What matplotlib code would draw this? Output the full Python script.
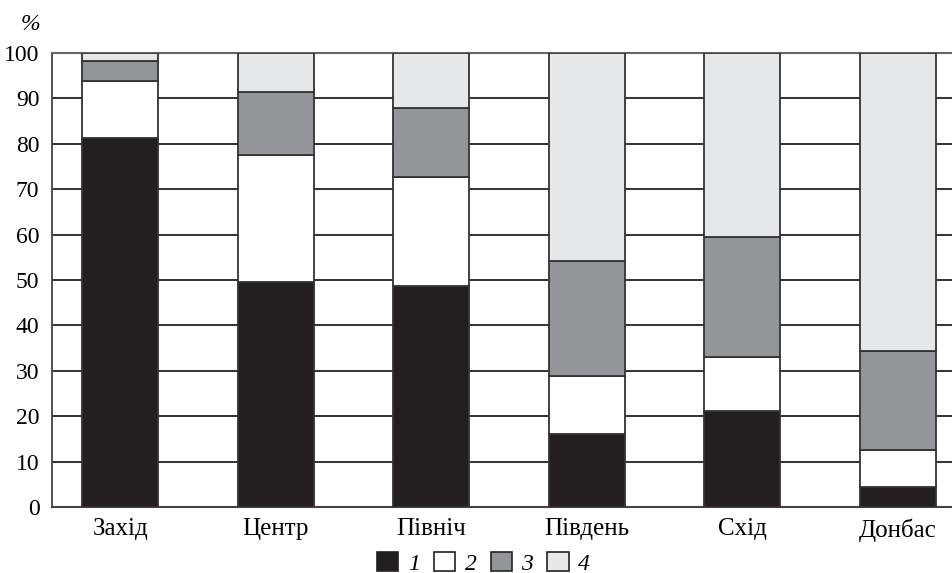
import numpy as np
import matplotlib.pyplot as plt
from matplotlib.patches import Patch

regions = ['Захід', 'Центр', 'Північ', 'Південь', 'Схід', 'Донбас']
# segment heights
s1 = [81.3, 49.6, 48.7, 16.1, 21.1, 4.4]
s2 = [12.5, 27.9, 24.0, 12.8, 11.9, 8.2]
s3 = [4.4, 13.9, 15.2, 25.3, 26.5, 21.8]
s4 = [1.8, 8.6, 12.1, 45.8, 40.5, 65.6]
series_labels = ['1', '2', '3', '4']

colors = ['#231f20', '#ffffff', '#939598', '#e6e7e8']

plt.rcParams['font.family'] = ['Liberation Serif', 'DejaVu Serif']

fig = plt.figure(figsize=(9.52, 5.73), dpi=100)
ax = fig.add_axes([0.0546, 0.1152, 0.9454, 0.7923])

x = np.arange(len(regions))
bottom = np.zeros(len(regions))
for vals, c in zip([s1, s2, s3, s4], colors):
    ax.bar(x, vals, width=0.49, bottom=bottom, color=c,
           edgecolor='#333333', linewidth=1.3, zorder=3)
    bottom += np.array(vals)

ax.set_ylim(0, 100)
ax.set_xlim(-0.44, 5.35)
ax.set_yticks(np.arange(0, 101, 10))
ax.set_xticks(x)
ax.set_xticklabels(regions)
ax.tick_params(axis='y', length=0, labelsize=17, pad=9)
ax.tick_params(axis='x', length=0, labelsize=18, pad=8)
ax.yaxis.grid(True, color='#222222', linewidth=1.3, zorder=0)
ax.set_axisbelow(True)

ax.spines['right'].set_visible(False)
ax.spines['top'].set_color('#666666')
ax.spines['top'].set_linewidth(1.5)
ax.spines['left'].set_color('#444444')
ax.spines['left'].set_linewidth(1.3)
ax.spines['bottom'].set_color('#444444')
ax.spines['bottom'].set_linewidth(1.5)

fig.text(0.032, 0.958, '%', fontsize=17, style='italic', ha='center', va='center')

handles = [Patch(facecolor=c, edgecolor='#222222', linewidth=1.2) for c in colors]
fig.legend(handles, series_labels, loc='center', bbox_to_anchor=(0.508, 0.017),
           ncol=4, frameon=False, handlelength=0.9, handleheight=0.9,
           handletextpad=0.4, columnspacing=0.6, borderpad=0.0,
           prop={'style': 'italic', 'size': 17})

fig.savefig('out.png', dpi=100)
